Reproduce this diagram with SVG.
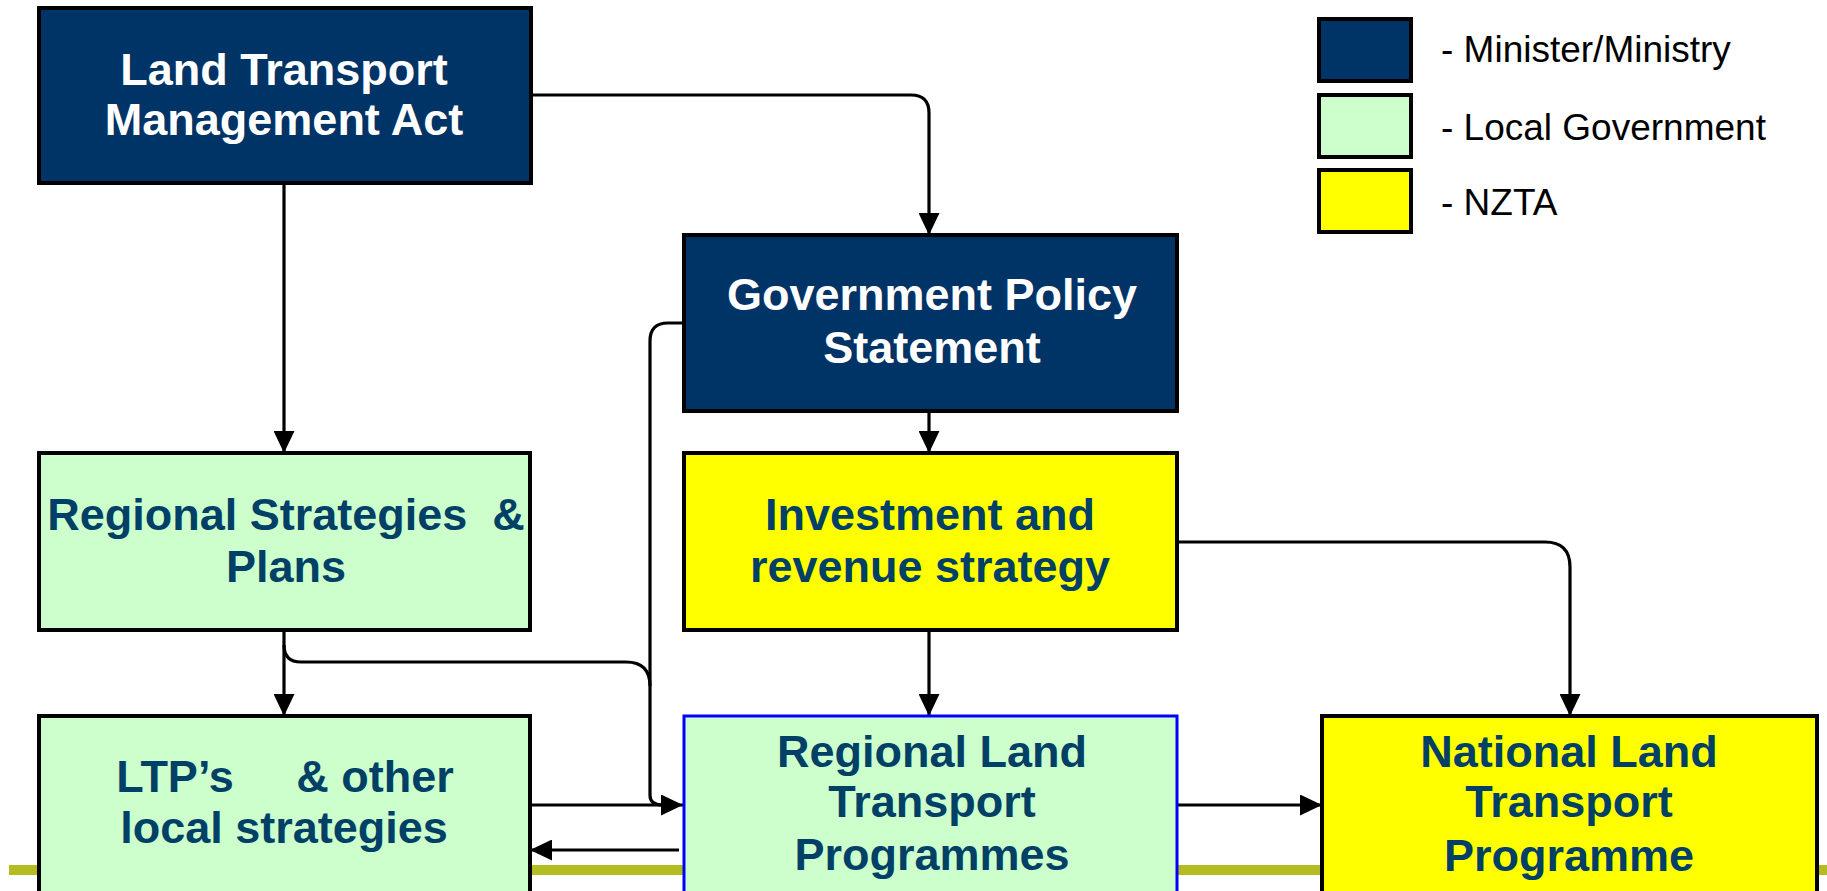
<svg xmlns="http://www.w3.org/2000/svg" width="1827" height="891" viewBox="0 0 1827 891">
<style>
.box{stroke:#000;stroke-width:4}
.navy{fill:#003366}
.green{fill:#ccffcc}
.yellow{fill:#ffff00}
.t{font-family:"Liberation Sans",Arial,sans-serif;font-weight:bold;font-size:45px;text-anchor:middle}
.tw{fill:#ffffff}
.td{fill:#003f66}
.leg{font-family:"Liberation Sans",Arial,sans-serif;font-size:37px;fill:#000}
.c{fill:none;stroke:#000;stroke-width:3.2}
</style>
<defs>
<marker id="ah" markerWidth="22" markerHeight="21" refX="22" refY="10.5" orient="auto" markerUnits="userSpaceOnUse">
<path d="M0,0 L22,10.5 L0,21 z" fill="#000"/>
</marker>
</defs>
<rect x="0" y="0" width="1827" height="891" fill="#ffffff"/>
<line x1="9" y1="870" x2="1827" y2="870" stroke="#b3bc21" stroke-width="10"/>

<g id="connectors">
<path class="c" d="M531,95 H911 Q929,95 929,113 V235" marker-end="url(#ah)"/>
<path class="c" d="M284,183 V453" marker-end="url(#ah)"/>
<path class="c" d="M929,411 V453" marker-end="url(#ah)"/>
<path class="c" d="M683,323 H668 Q650,323 650,341 V795 Q650,805 662,805"/>
<path class="c" d="M284,630 V716" marker-end="url(#ah)"/>
<path class="c" d="M284,645 Q284,662 301,662 H626 Q650,662 650,686"/>
<path class="c" d="M530,805 H683" marker-end="url(#ah)"/>
<path class="c" d="M679,850 H530" marker-end="url(#ah)"/>
<path class="c" d="M929,630 V716" marker-end="url(#ah)"/>
<path class="c" d="M1177,542 H1545 Q1570,542 1570,567 V716" marker-end="url(#ah)"/>
<path class="c" d="M1177,805 H1322" marker-end="url(#ah)"/>
</g>

<g id="ltma">
<rect class="box navy" x="39" y="8" width="492" height="175"/>
<text class="t tw" x="284" y="85">Land Transport</text>
<text class="t tw" x="284" y="135">Management Act</text>
</g>

<g id="gps">
<rect class="box navy" x="684" y="235" width="493" height="176"/>
<text class="t tw" x="932" y="310">Government Policy</text>
<text class="t tw" x="932" y="363">Statement</text>
</g>

<g id="rsp">
<rect class="box green" x="39" y="453" width="491" height="177"/>
<text class="t td" x="286" y="530" xml:space="preserve" style="white-space:pre">Regional Strategies  &amp;</text>
<text class="t td" x="286" y="582">Plans</text>
</g>

<g id="irs">
<rect class="box yellow" x="684" y="453" width="493" height="177"/>
<text class="t td" x="930" y="530">Investment and</text>
<text class="t td" x="930" y="582">revenue strategy</text>
</g>

<g id="ltp">
<rect class="box green" x="39" y="716" width="491" height="190"/>
<text class="t td" x="285" y="792" xml:space="preserve" style="white-space:pre">LTP’s     &amp; other</text>
<text class="t td" x="284" y="843">local strategies</text>
</g>

<g id="rltp">
<rect x="684" y="716" width="493" height="190" fill="#ccffcc" stroke="#0000ff" stroke-width="3"/>
<text class="t td" x="932" y="767">Regional Land</text>
<text class="t td" x="932" y="817">Transport</text>
<text class="t td" x="932" y="870">Programmes</text>
</g>

<g id="nltp">
<rect class="box yellow" x="1322" y="716" width="495" height="190"/>
<text class="t td" x="1569" y="767">National Land</text>
<text class="t td" x="1569" y="817">Transport</text>
<text class="t td" x="1569" y="871">Programme</text>
</g>

<g id="legend">
<rect class="box navy" x="1319" y="19" width="92" height="62"/>
<text class="leg" x="1441" y="62">- Minister/Ministry</text>
<rect class="box green" x="1319" y="95" width="92" height="62"/>
<text class="leg" x="1441" y="140">- Local Government</text>
<rect class="box yellow" x="1319" y="170" width="92" height="62"/>
<text class="leg" x="1441" y="215">- NZTA</text>
</g>
</svg>
